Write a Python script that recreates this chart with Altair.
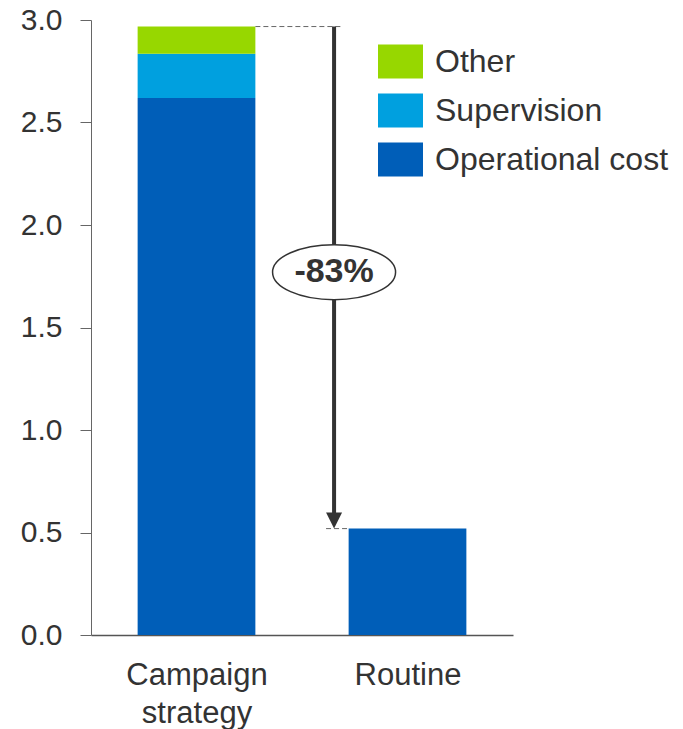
import altair as alt
import pandas as pd

# ---- data ----
categories = ["Campaign strategy", "Routine"]
components = ["Other", "Supervision", "Operational cost"]
colors = ["#97D700", "#00A0DF", "#005EB8"]
stack_rank = [2, 1, 0]  # Operational cost at the bottom
campaign_values = [0.133, 0.215, 2.62]
routine_values = [0.0, 0.0, 0.519]
y_ticks = [0.0, 0.5, 1.0, 1.5, 2.0, 2.5, 3.0]
change_label = "-83%"
label_level = 1.77

# ---- layout constants (not data) ----
HALF = 0.279          # half bar width, in category units
ARROW_X = 0.652       # arrow position between the two bars
TOP_DASH_END = 0.689
BOT_DASH_START = 0.614

rows = []
for i, (cat, vals) in enumerate(zip(categories, [campaign_values, routine_values])):
    base = 0.0
    for comp, v, r in sorted(zip(components, vals, stack_rank), key=lambda t: t[2]):
        if v > 0:
            rows.append({"cat": cat, "component": comp, "value": v,
                         "xa": i - HALF, "xb": i + HALF, "y0": base, "y1": base + v})
            base += v
bars_df = pd.DataFrame(rows)

top_val = sum(campaign_values)
bot_val = sum(routine_values)
ann_df = pd.DataFrame([{
    "ax": ARROW_X,
    "t0": HALF, "t1": TOP_DASH_END,
    "b0": BOT_DASH_START, "b1": 1 - HALF,
    "top": top_val, "bottom": bot_val,
    "mid": label_level, "label": change_label,
}])

FONT = "Liberation Sans"
TXT = "#333333"

x_scale = alt.Scale(domain=[-0.5, len(categories) - 0.5], nice=False, zero=False)
y_scale = alt.Scale(domain=[0, 3], nice=False, zero=True)

label_expr = " : ".join(
    f"datum.value == {i} ? {repr(c.split(' ')) if ' ' in c else repr(c)}"
    for i, c in enumerate(categories)
) + " : ''"

rect_path = "M-1,-0.7556H1V0.7556H-1Z"
k = 0.447
c = 0.5523
ellipse_path = (
    f"M-1,0C-1,{-c*k:.4f} {-c:.4f},{-k} 0,{-k}"
    f"C{c:.4f},{-k} 1,{-c*k:.4f} 1,0"
    f"C1,{c*k:.4f} {c:.4f},{k} 0,{k}"
    f"C{-c:.4f},{k} -1,{c*k:.4f} -1,0Z"
)
arrow_path = "M-1,-2L1,-2L0,0Z"

x_axis = alt.Axis(title=None, values=list(range(len(categories))), labelAngle=0,
                  ticks=False, grid=False, labelFont=FONT,
                  labelFontSize=31, labelColor=TXT, labelPadding=25,
                  labelLineHeight=38, labelExpr=label_expr, labelFlush=False,
                  labelOverlap=False, domainColor="#555555", domainWidth=1.5)
y_axis = alt.Axis(title=None, values=y_ticks, format=".1f", grid=False,
                  labelFont=FONT, labelFontSize=30, labelColor=TXT,
                  labelPadding=18, tickSize=11, tickColor="#666666",
                  domainColor="#666666")


def X(field):
    return alt.X(field, type="quantitative", scale=x_scale, axis=x_axis, title=None)


def Y(field):
    return alt.Y(field, type="quantitative", scale=y_scale, axis=y_axis, title=None)


bars = alt.Chart(bars_df).mark_bar().encode(
    x=X("xa"),
    x2="xb:Q",
    y=Y("y0"),
    y2="y1:Q",
    color=alt.Color("component:N",
                    scale=alt.Scale(domain=components, range=colors),
                    legend=alt.Legend(title=None, orient="none", legendX=287, legendY=19,
                                      symbolType=rect_path, symbolSize=2025,
                                      symbolStrokeWidth=0, symbolOpacity=1,
                                      labelFont=FONT, labelFontSize=32, labelColor=TXT,
                                      labelOffset=12, labelLimit=400,
                                      rowPadding=9, padding=0)),
)

base = alt.Chart(ann_df)

top_dash = base.mark_rule(color="#666666", strokeWidth=1, strokeDash=[5, 3]).encode(
    x=X("t0"), x2="t1:Q", y=Y("top"),
)

bottom_dash = base.mark_rule(color="#666666", strokeWidth=1, strokeDash=[5, 3]).encode(
    x=X("b0"), x2="b1:Q", y=Y("bottom"),
)

arrow_line = base.mark_rule(color="#333333", strokeWidth=4, y2Offset=-14).encode(
    x=X("ax"), y=Y("top"), y2="bottom:Q",
)

arrow_head = base.mark_point(shape=arrow_path, size=256, filled=True,
                             color="#333333", opacity=1).encode(
    x=X("ax"), y=Y("bottom"),
)

ellipse = base.mark_point(shape=ellipse_path, size=15129, filled=True,
                          fill="white", stroke="#333333", strokeWidth=1.5,
                          opacity=1).encode(
    x=X("ax"), y=Y("mid"),
)

label = base.mark_text(font=FONT, fontSize=34, fontWeight="bold",
                       color=TXT, baseline="middle", align="center").encode(
    x=X("ax"), y=Y("mid"), text="label:N",
)

chart = alt.layer(bars, top_dash, bottom_dash, arrow_line, arrow_head, ellipse, label).properties(
    width=422, height=615,
    autosize=alt.AutoSizeParams(type="none"),
    padding={"left": 91, "top": 20, "right": 170, "bottom": 94},
).configure_view(stroke=None)

chart.save("out.html", embed_options={"renderer": "svg", "actions": False})
